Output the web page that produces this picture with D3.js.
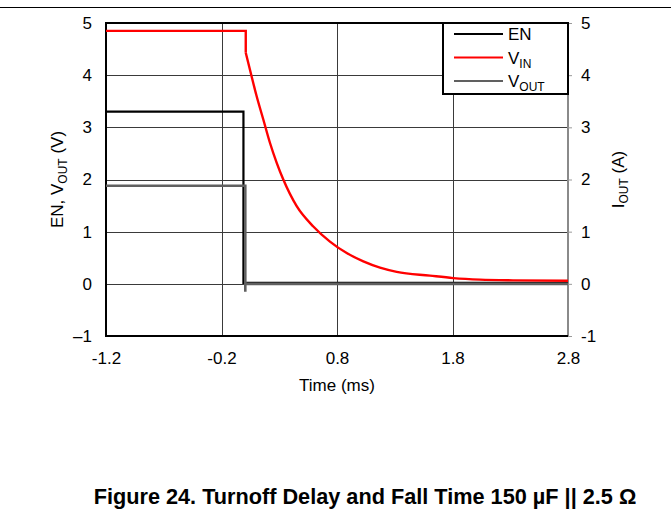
<!DOCTYPE html>
<html><head><meta charset="utf-8">
<script src="https://cdn.jsdelivr.net/npm/d3@7"></script>
<style>body{margin:0;background:#fff}svg{display:block;font-family:"Liberation Sans",Arial,sans-serif}</style>
</head><body><svg id="c" width="671" height="518"></svg>
<script>
// ---- data ----
const xTicks = [-1.2, -0.2, 0.8, 1.8, 2.8];
const xTickLabels = ["-1.2", "-0.2", "0.8", "1.8", "2.8"];
const yTicks = [-1, 0, 1, 2, 3, 4, 5];
const yLeftLabels = ["\u20131", "0", "1", "2", "3", "4", "5"];
const yRightLabels = ["-1", "0", "1", "2", "3", "4", "5"];

const enTime = [-1.2, -0.01, -0.01, 2.8];
const enVal  = [3.3, 3.3, 0.02, 0.02];

const vinStepTime = [-1.2, 0.01, 0.01];
const vinStepVal  = [4.85, 4.85, 4.43];
const vinDecayTime = [0.01, 0.047, 0.105, 0.162, 0.22, 0.278, 0.335, 0.451, 0.595, 0.739, 0.884, 1.028, 1.172, 1.317, 1.605, 1.807, 2.038, 2.324, 2.8];
const vinDecayVal  = [4.43, 4.1, 3.59, 3.15, 2.70, 2.32, 2.0, 1.49, 1.10, 0.81, 0.59, 0.43, 0.31, 0.23, 0.157, 0.11, 0.08, 0.067, 0.06];

const voutTime = [-1.2, 0.006, 0.006, 0.006, 2.8];
const voutVal  = [1.88, 1.88, -0.15, 0.0, 0.0];

const legendNames = [["EN", ""], ["V", "IN"], ["V", "OUT"]];
const legendColors = ["#000000", "#ff0000", "#606060"];

// ---- layout ----
const svg = d3.select("#c");
const L = 106, R = 568, T = 23, B = 336;
const FS = 17;
const x = d3.scaleLinear().domain([-1.2, 2.8]).range([L, R]);
const y = d3.scaleLinear().domain([-1, 5]).range([B, T]);

// page rule
svg.append("line").attr("x1", 0).attr("x2", 671).attr("y1", 7.5).attr("y2", 7.5)
  .attr("stroke", "#000").attr("stroke-width", 1.2);

// grid
const g = svg.append("g");
[0, 1, 2, 3, 4].forEach(v => g.append("line").attr("x1", L).attr("x2", R)
  .attr("y1", Math.round(y(v)) + 0.5).attr("y2", Math.round(y(v)) + 0.5)
  .attr("stroke", "#3a3a3a").attr("stroke-width", 1));
[-0.2, 0.8, 1.8].forEach(v => g.append("line").attr("y1", T).attr("y2", B)
  .attr("x1", Math.round(x(v)) + 0.5).attr("x2", Math.round(x(v)) + 0.5)
  .attr("stroke", "#3a3a3a").attr("stroke-width", 1));

// right axis (grey)
const rAxis = d3.axisRight(y).tickValues(yTicks).tickSize(4).tickFormat((d, i) => yRightLabels[i]);
const ra = svg.append("g").attr("transform", `translate(${R},0)`).call(rAxis);
ra.select(".domain").attr("stroke", "#8a8a8a").attr("stroke-width", 2).attr("d", `M0,${T}V${B}`);
ra.selectAll(".tick line").attr("stroke", "#9a9a9a");
ra.selectAll(".tick text").attr("x", 13).attr("font-size", FS).attr("fill", "#000")
  .attr("font-family", "Liberation Sans, Arial, sans-serif");

// left axis
const lAxis = d3.axisLeft(y).tickValues(yTicks).tickSize(0).tickFormat((d, i) => yLeftLabels[i]);
const la = svg.append("g").attr("transform", `translate(${L},0)`).call(lAxis);
la.select(".domain").remove();
la.selectAll(".tick text").attr("x", -14).attr("font-size", FS).attr("fill", "#000")
  .attr("font-family", "Liberation Sans, Arial, sans-serif");

// bottom axis
const bAxis = d3.axisBottom(x).tickValues(xTicks).tickSize(0).tickFormat((d, i) => xTickLabels[i]);
const ba = svg.append("g").attr("transform", `translate(0,${B})`).call(bAxis);
ba.select(".domain").remove();
ba.selectAll(".tick text").attr("y", 16).attr("font-size", FS).attr("fill", "#000")
  .attr("font-family", "Liberation Sans, Arial, sans-serif");

// frame (top, left, bottom)
svg.append("path").attr("d", `M${R},${T}H${L}V${B}H${R}`)
  .attr("fill", "none").attr("stroke", "#000").attr("stroke-width", 2);

// series
const line = d3.line().x(d => x(d[0])).y(d => y(d[1]));
const curve = d3.line().x(d => x(d[0])).y(d => y(d[1])).curve(d3.curveMonotoneX);
const zip = (a, b) => a.map((t, i) => [t, b[i]]);

svg.append("path").attr("d", line(zip(enTime, enVal))).attr("fill", "none")
  .attr("stroke", legendColors[0]).attr("stroke-width", 2.2);
svg.append("path").attr("d", line(zip(voutTime, voutVal))).attr("fill", "none")
  .attr("stroke", legendColors[2]).attr("stroke-width", 2.6);
svg.append("path").attr("d", line(zip(vinStepTime, vinStepVal))).attr("fill", "none")
  .attr("stroke", legendColors[1]).attr("stroke-width", 2.4);
svg.append("path").attr("d", curve(zip(vinDecayTime, vinDecayVal))).attr("fill", "none")
  .attr("stroke", legendColors[1]).attr("stroke-width", 2.4);

// legend
const lg = svg.append("g");
lg.append("rect").attr("x", 443).attr("y", 23).attr("width", 125).attr("height", 71)
  .attr("fill", "#fff").attr("stroke", "#000").attr("stroke-width", 2);
legendNames.forEach((n, i) => {
  const yy = 34 + i * 23.5;
  lg.append("line").attr("x1", 454).attr("x2", 503).attr("y1", yy).attr("y2", yy)
    .attr("stroke", legendColors[i]).attr("stroke-width", 2);
  const t = lg.append("text").attr("x", 508).attr("y", yy + 6).attr("font-size", FS).attr("fill", "#000");
  t.append("tspan").text(n[0]);
  if (n[1]) t.append("tspan").attr("dy", 4).attr("font-size", 12).text(n[1]);
});

// axis titles
const lt = svg.append("text").attr("transform", `translate(63,${(T + B) / 2}) rotate(-90)`)
  .attr("text-anchor", "middle").attr("font-size", FS).attr("fill", "#000");
lt.append("tspan").text("EN, V");
lt.append("tspan").attr("dy", 4).attr("font-size", 12).text("OUT");
lt.append("tspan").attr("dy", -4).text(" (V)");

const rt = svg.append("text").attr("transform", `translate(624,${(T + B) / 2}) rotate(-90)`)
  .attr("text-anchor", "middle").attr("font-size", FS).attr("fill", "#000");
rt.append("tspan").text("I");
rt.append("tspan").attr("dy", 4).attr("font-size", 12).text("OUT");
rt.append("tspan").attr("dy", -4).text(" (A)");

svg.append("text").attr("x", (L + R) / 2).attr("y", 391).attr("text-anchor", "middle")
  .attr("font-size", FS).attr("fill", "#000").text("Time (ms)");

svg.append("text").attr("x", 365).attr("y", 504).attr("text-anchor", "middle")
  .attr("font-size", 21.7).attr("font-weight", "bold").attr("fill", "#000")
  .text("Figure 24. Turnoff Delay and Fall Time 150 \u00b5F || 2.5 \u03a9");
</script></body></html>
